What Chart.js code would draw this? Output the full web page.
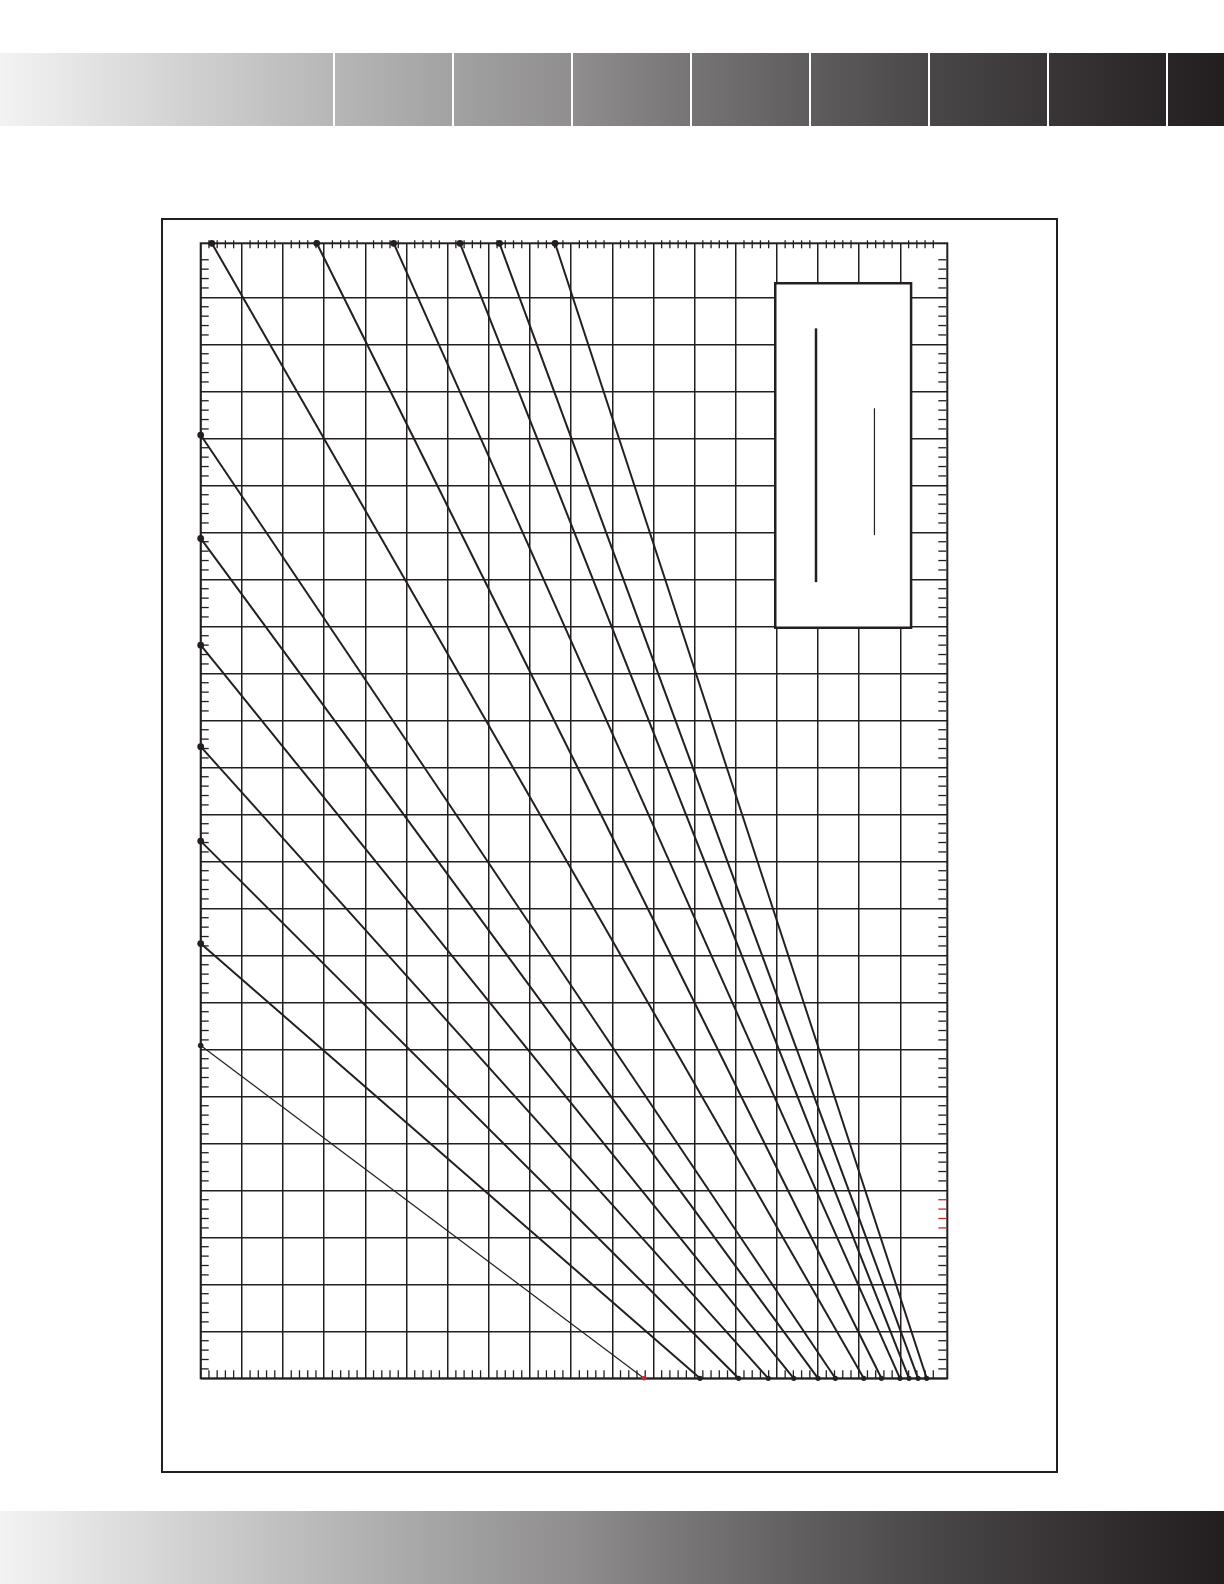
<!DOCTYPE html>
<html>
<head>
<meta charset="utf-8">
<script src="https://cdn.jsdelivr.net/npm/chart.js@4.4.1/dist/chart.umd.min.js"></script>
<style>
  body { margin: 0; background: #fff; }
  #page { position: relative; width: 1224px; height: 1584px; overflow: hidden; background: #fff; }
  .bar {
    position: absolute; left: 0; width: 1224px; height: 73px;
    background: linear-gradient(to right, #f3f3f3 0%, #b7b7b7 27%, #a3a2a2 37%, #8f8d8e 47%,
      #767475 56.5%, #5f5d5e 66%, #4a4748 76%, #393536 86%, #2a2627 95%, #231f20 100%);
  }
  .sep { position: absolute; top: 0; width: 2px; height: 100%; background: #fff; }
  #frame {
    position: absolute; left: 161px; top: 217.5px; width: 897px; height: 1255px;
    border: 2.5px solid #231f20; box-sizing: border-box;
  }
  #chart { position: absolute; left: 0; top: 0; }
</style>
</head>
<body>
<div id="page">
  <div class="bar" id="header" style="top:53px"></div>
  <div id="frame"></div>
  <div class="bar" id="footer" style="top:1511px"></div>
  <canvas id="chart" width="1224" height="1584"></canvas>
</div>
<script>
const INK = "#231f20";
const RED = "#d2232a";

// axis ranges (the last column and top row run a little past the last grid line)
const X_MAX = 18.14;
const Y_MAX = 24.15;
const xGridValues = [0, 1, 2, 3, 4, 5, 6, 7, 8, 9, 10, 11, 12, 13, 14, 15, 16, 17];
const yGridValues = [0, 1, 2, 3, 4, 5, 6, 7, 8, 9, 10, 11, 12, 13, 14, 15, 16, 17, 18, 19, 20, 21, 22, 23];
const MINOR_PER_UNIT = 5;

// lines that start on the left edge (x = 0), bottom to top
const leftStartY = [7.08, 9.25, 11.43, 13.44, 15.60, 17.87, 20.07];
// lines that start on the top edge (y = Y_MAX), left to right
const topStartX = [0.27, 2.82, 4.69, 6.30, 7.26, 8.61];
// where each line ends on the bottom axis (y = 0), same order as above
const bottomEndX = [10.77, 12.13, 13.07, 13.79, 14.41, 15.00, 15.42, 16.11, 16.54, 16.99, 17.21, 17.43, 17.64];
// minor ticks on the right axis printed in red
const redRightTicks = [3.2, 3.4, 3.6, 3.8];

// header separators
const headerSeps = [334, 453, 572, 691, 810, 929, 1048, 1167];
const header = document.getElementById("header");
headerSeps.forEach(x => {
    const d = document.createElement("div");
    d.className = "sep";
    d.style.left = (x - 1) + "px";
    header.appendChild(d);
});

const starts = leftStartY.map(y => ({ x: 0, y }))
    .concat(topStartX.map(x => ({ x, y: Y_MAX })));

const datasets = starts.map((s, i) => ({
    data: [s, { x: bottomEndX[i], y: 0 }],
    showLine: true,
    borderColor: INK,
    borderWidth: i === 0 ? 1.2 : 2,
    pointRadius: i === 0 ? [2.8, 2.3] : [3.4, 2.6],
    pointBackgroundColor: i === 0 ? [INK, RED] : INK,
    pointBorderWidth: 0,
    clip: false
}));

function seg(ctx, x1, y1, x2, y2) {
    ctx.beginPath();
    ctx.moveTo(x1, y1);
    ctx.lineTo(x2, y2);
    ctx.stroke();
}

// frame, minor ticks and the (empty) key box
const framePlugin = {
    id: "framePlugin",
    beforeDatasetsDraw(chart) {
        const { ctx, chartArea: a, scales: { x, y } } = chart;
        ctx.save();
        ctx.strokeStyle = INK;
        ctx.lineWidth = 2;
        ctx.strokeRect(a.left, a.top, a.right - a.left, a.bottom - a.top);

        ctx.lineWidth = 1.3;
        for (let k = 1; k / MINOR_PER_UNIT < 18; k++) {
            if (k % MINOR_PER_UNIT === 0) continue;
            const px = x.getPixelForValue(k / MINOR_PER_UNIT);
            seg(ctx, px, a.top - 3, px, a.top + 5);
            seg(ctx, px, a.bottom - 8, px, a.bottom);
        }
        for (let k = 1; k / MINOR_PER_UNIT < 24; k++) {
            if (k % MINOR_PER_UNIT === 0) continue;
            const v = k / MINOR_PER_UNIT;
            const py = y.getPixelForValue(v);
            ctx.strokeStyle = INK;
            seg(ctx, a.left, py, a.left + 8, py);
            ctx.strokeStyle = redRightTicks.some(r => Math.abs(r - v) < 1e-6) ? RED : INK;
            seg(ctx, a.right - 9, py, a.right - 1, py);
        }
        ctx.restore();
    },
    afterDatasetsDraw(chart) {
        const { ctx, scales: { x, y } } = chart;
        const l = x.getPixelForValue(13.96), r = x.getPixelForValue(17.26);
        const t = y.getPixelForValue(23.30), b = y.getPixelForValue(15.97);
        ctx.save();
        ctx.fillStyle = "#fff";
        ctx.fillRect(l, t, r - l, b - t);
        ctx.strokeStyle = INK;
        ctx.lineWidth = 2.5;
        ctx.strokeRect(l, t, r - l, b - t);
        // line samples of the key
        ctx.lineWidth = 2.5;
        seg(ctx, x.getPixelForValue(14.95), y.getPixelForValue(22.34), x.getPixelForValue(14.95), y.getPixelForValue(16.94));
        ctx.lineWidth = 1.2;
        seg(ctx, x.getPixelForValue(16.37), y.getPixelForValue(20.64), x.getPixelForValue(16.37), y.getPixelForValue(17.94));
        ctx.restore();
    }
};

new Chart(document.getElementById("chart"), {
    type: "scatter",
    data: { datasets },
    options: {
        responsive: false,
        animation: false,
        events: [],
        layout: { padding: { left: 200.7, top: 243.3, right: 276.7, bottom: 205.7 } },
        plugins: { legend: { display: false }, tooltip: { enabled: false } },
        scales: {
            x: {
                type: "linear", min: 0, max: X_MAX,
                afterBuildTicks: s => { s.ticks = xGridValues.map(v => ({ value: v })); },
                grid: { color: INK, lineWidth: 1.5, drawTicks: false },
                border: { display: false },
                ticks: { display: false }
            },
            y: {
                type: "linear", min: 0, max: Y_MAX,
                afterBuildTicks: s => { s.ticks = yGridValues.map(v => ({ value: v })); },
                grid: { color: INK, lineWidth: 1.5, drawTicks: false },
                border: { display: false },
                ticks: { display: false }
            }
        }
    },
    plugins: [framePlugin]
});
</script>
</body>
</html>
